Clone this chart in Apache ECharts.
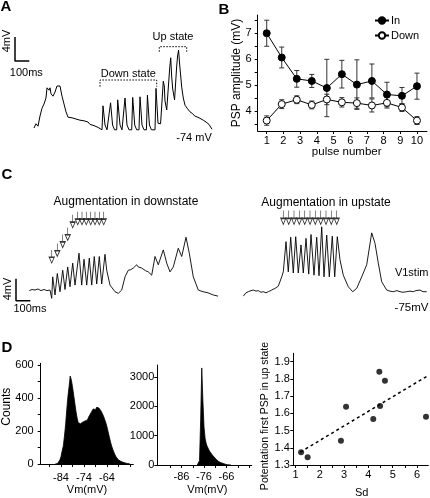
<!DOCTYPE html>
<html><head><meta charset="utf-8">
<script src="https://cdn.jsdelivr.net/npm/echarts@6/dist/echarts.min.js"></script>
<style>html,body{margin:0;padding:0;background:#fff}#c{width:430px;height:498px}</style>
</head><body><div id="c"></div>
<script>
// ---------- DATA ----------
// Panel A: membrane potential trace [time ms, Vm mV]
const traceA = [[0,-74.0],[14,-73.3],[28,-73.7],[42,-72.0],[56,-70.7],[70,-70.0],[84,-69.0],[91,-67.3],[98,-67.0],[105,-67.7],[112,-67.3],[119,-68.3],[133,-68.7],[147,-68.0],[161,-67.0],[168,-66.8],[175,-67.3],[182,-67.0],[196,-68.7],[210,-70.0],[224,-71.3],[238,-72.2],[252,-72.0],[266,-72.3],[280,-72.2],[294,-72.5],[308,-72.4],[322,-72.7],[336,-72.6],[350,-72.8],[364,-72.9],[378,-73.0],[392,-73.4],[406,-73.3],[420,-73.6],[434,-73.8],[448,-73.9],[462,-74.0],
[476,-74.3],[483,-70.3],[497,-73.5],[511,-74.3],
[525,-74.3],[536,-69.8],[550,-73.5],[564,-74.3],
[579,-74.3],[586,-69.3],[602,-73.5],[616,-74.3],
[630,-74.3],[637,-69.0],[651,-73.5],[665,-74.3],
[684,-74.3],[691,-68.9],[705,-73.5],[719,-74.3],
[735,-74.3],[742,-68.8],[756,-73.5],[770,-74.3],
[787,-74.3],[794,-68.5],[808,-73.5],[822,-74.3],
[847,-74.3],[854,-67.4],[868,-73.2],[886,-73.3],
[905,-66.2],[912,-67.0],[917,-69.5],[929,-71.0],[950,-64.0],[957,-62.3],[964,-65.5],[971,-67.5],[984,-69.3],[998,-64.0],[1005,-62.0],[1012,-61.0],[1020,-63.5],[1034,-67.2],[1045,-69.0],[1057,-70.2],[1075,-70.8],[1092,-71.3],[1110,-71.6],[1125,-72.0],[1139,-72.2],[1155,-72.3],[1169,-72.5],[1185,-72.7],[1204,-73.0],[1225,-73.4],[1246,-74.2]];
const scaleBarA = [[-133,-58.83],[-133,-62.83],[-33,-62.83]];
const downBracket = [[462,-67.1],[462,-66],[859,-66],[859,-67.1]];
const upBracket = [[877,-61.28],[877,-60.45],[1069,-60.45],[1069,-61.28]];

// Panel B: PSP amplitude vs pulse number
const pulseX = [1, 1.9, 2.8, 3.7, 4.6, 5.5, 6.4, 7.3, 8.2, 9.1, 10];
const inVals = [7.0, 6.07, 5.25, 5.17, 4.9, 5.43, 5.03, 5.17, 4.65, 4.6, 4.97];
const inErr = [0.5, 0.4, 0.32, 0.25, 1.1, 0.53, 0.95, 0.65, 0.47, 0.32, 0.5];
const downVals = [3.65, 4.28, 4.45, 4.25, 4.46, 4.35, 4.32, 4.23, 4.33, 4.15, 3.65];
const downErr = [0.18, 0.17, 0.15, 0.15, 0.2, 0.18, 0.2, 0.25, 0.2, 0.15, 0.15];
const pulseTicks = [1,2,3,4,5,6,7,8,9,10];
const pspTicks = [4,5,6,7];

// Panel C: traces [time ms, Vm mV]
const traceCdown = [[205,-74.8],[224,-74.6],[245,-74.7],[266,-74.5],[287,-74.8],[308,-74.6],[329,-74.8],[350,-74.7],[362,-76.2],[369,-72.3],[385,-75.6],[401,-71.7],[420,-75.0],[439,-71.1],[455,-74.6],[474,-70.5],[490,-74.1],[509,-69.8],[525,-73.8],[553,-68.0],[572,-73.8],[588,-69.1],[607,-73.8],[625,-68.9],[642,-73.8],[660,-68.6],[677,-73.6],[695,-68.6],[712,-73.6],[735,-68.2],[747,-71.1],[770,-73.8],[805,-75.0],[828,-75.3],[852,-74.7],[875,-72.3],[898,-71.1],[915,-71.0],[933,-70.7],[945,-70.6],[957,-70.1],[968,-70.5],[980,-70.6],[992,-70.7],[1003,-70.9],[1020,-71.2],[1038,-71.4],[1062,-72.0],[1085,-68.6],[1108,-70.1],[1143,-67.4],[1167,-69.8],[1190,-71.4],[1213,-70.5],[1248,-67.1],[1272,-68.6],[1302,-65.1],[1325,-68.0],[1353,-72.3],[1388,-74.7],[1421,-75.0],[1456,-75.2],[1493,-75.6],[1526,-75.8]];
const traceCup = [[1703,-75.8],[1722,-75.2],[1738,-75.0],[1757,-74.8],[1773,-74.7],[1792,-74.9],[1808,-74.8],[1827,-75.1],[1843,-75.0],[1862,-75.2],[1878,-75.0],[1902,-74.7],[1925,-74.4],[1948,-74.0],[1972,-72.3],[1983,-71.4],[2002,-65.9],[2018,-71.4],[2035,-65.1],[2053,-71.6],[2070,-65.0],[2088,-71.6],[2107,-66.5],[2123,-71.6],[2142,-65.3],[2161,-71.8],[2177,-64.6],[2198,-72.0],[2217,-65.1],[2233,-72.1],[2252,-63.2],[2268,-72.3],[2287,-64.7],[2305,-72.3],[2326,-64.9],[2343,-72.3],[2361,-65.0],[2380,-69.2],[2403,-72.0],[2438,-74.1],[2469,-75.0],[2497,-74.4],[2532,-72.3],[2567,-70.1],[2602,-64.3],[2625,-66.2],[2648,-69.8],[2672,-73.2],[2707,-74.7],[2730,-74.9],[2753,-75.0],[2779,-74.8],[2800,-75.0],[2821,-75.1],[2847,-75.0],[2870,-74.9],[2893,-75.0],[2912,-74.8],[2940,-74.7],[2961,-75.0],[2987,-75.0]];
const arrowsDown = [[362,-68.6],[401,-67.4],[439,-65.8],[474,-64.5],[509,-62.2],[544,-61.65],[574,-61.65],[604,-61.65],[635,-61.65],[665,-61.65],[695,-61.65],[726,-61.65]];
const arrowsUp = [[1983,-61.5],[2021,-61.5],[2058,-61.5],[2095,-61.5],[2133,-61.5],[2170,-61.5],[2207,-61.5],[2245,-61.5],[2282,-61.5],[2319,-61.5],[2357,-61.5]];
const scaleBarC = [[112,-72.64],[112,-76.64],[212,-76.64]];

// Panel D: Vm histograms [Vm mV, counts]
const hist1 = [[-86.5,0],[-86,0],[-85.5,3],[-85,10],[-84.5,25],[-84,45],[-83.5,80],[-83,110],[-82.5,170],[-82,240],[-81.5,330],[-81,410],[-80.5,470],[-80,535],[-79.5,510],[-79,470],[-78.5,420],[-78,370],[-77.5,320],[-77,280],[-76.5,250],[-76,238],[-75.5,245],[-75,240],[-74.5,255],[-74,250],[-73.5,262],[-73,270],[-72.5,268],[-72,285],[-71.5,290],[-71,310],[-70.5,320],[-70,335],[-69.5,340],[-69,330],[-68.5,345],[-68,335],[-67.5,340],[-67,330],[-66.5,320],[-66,305],[-65.5,290],[-65,270],[-64.5,250],[-64,225],[-63.5,195],[-63,165],[-62.5,135],[-62,110],[-61.5,90],[-61,72],[-60.5,55],[-60,42],[-59.5,32],[-59,25],[-58.5,20],[-58,16],[-57.5,12],[-57,10],[-56.5,8],[-56,6],[-55.5,4],[-55,3],[-54.5,2],[-54,0]];
const hist2 = [[-79,0],[-78.5,0],[-78,150],[-77.5,1500],[-77,3300],[-76.5,2200],[-76,1300],[-75.5,900],[-75,720],[-74.5,620],[-74,540],[-73.5,470],[-73,420],[-72.5,360],[-72,310],[-71.5,270],[-71,230],[-70.5,190],[-70,150],[-69.5,120],[-69,100],[-68.5,80],[-68,70],[-67.5,55],[-67,40],[-66.5,25],[-66,15],[-65.5,8],[-65,4],[-64,0]];
const hist1Labels = [-84,-74,-64];
const hist1Ticks = [-89,-84,-79,-74,-69,-64,-59,-54];
const hist1YLabels = [0,200,400,600];
const hist1YTicks = [0,100,200,300,400,500,600];
const hist2Labels = [-86,-76,-66];
const hist2Ticks = [-91,-86,-81,-76,-71,-66,-61,-56];
const hist2YLabels = [0,1000,2000,3000];

// Panel D right: potentiation vs Sd
const sdVals = [1.23, 1.5, 2.87, 3.08, 4.2, 4.45, 4.48, 4.68, 6.37];
const potVals = [1.374, 1.345, 1.441, 1.639, 1.567, 1.842, 1.643, 1.79, 1.581];
const fitLine = [[1.2, 1.375], [6.4, 1.815]];
const sdLabels = [1,2,3,4,5,6];
const sdTicks = [1,1.5,2,2.5,3,3.5,4,4.5,5,5.5,6];
const potLabels = [1.3,1.4,1.5,1.6,1.7,1.8,1.9];

// ---------- CHART ----------
const FONT = '"Liberation Sans", Arial, Helvetica, sans-serif';
const chart = echarts.init(document.getElementById('c'), null, {renderer:'canvas'});

function txt(s, x, y, size, opt) {
  opt = opt || {};
  return {type:'text', x:x, y:y, rotation: opt.rot || 0, silent:true, z:100,
    style:{text:s, x:0, y:0, align:'center', verticalAlign:'middle',
      font:(opt.bold?'bold ':'') + size + 'px ' + FONT, fill:'#000'}};
}
const R = Math.PI/2;

function errRender(params, api) {
  const x = api.value(0), lo = api.value(1), hi = api.value(2);
  const p1 = api.coord([x, hi]), p2 = api.coord([x, lo]);
  const w = 2.5, st = {stroke:'#333', lineWidth:1};
  return {type:'group', children:[
    {type:'line', shape:{x1:p1[0],y1:p1[1],x2:p2[0],y2:p2[1]}, style:st},
    {type:'line', shape:{x1:p1[0]-w,y1:p1[1],x2:p1[0]+w,y2:p1[1]}, style:st},
    {type:'line', shape:{x1:p2[0]-w,y1:p2[1],x2:p2[0]+w,y2:p2[1]}, style:st}
  ]};
}

const axisLine = {show:true, lineStyle:{color:'#000', width:1}};
const plain = v => String(v);
const lbl = (m, vals) => ({color:'#000', fontSize:11, fontFamily:FONT, margin:m, customValues: vals, formatter: plain});
const tick = (vals, len) => ({show:true, length: len || 3, lineStyle:{color:'#000'}, customValues: vals});
const hidden = {show:false};

const ARROW = 'path://M5,0L5,9M1,9L9,9L5,16Z';

const option = {
  animation:false,
  textStyle:{fontFamily:FONT},
  grid:[
    {left:0, top:20, width:215, height:120, outerBoundsMode:'none', containLabel:false},        // A
    {left:257.7, top:15, width:169.3, height:116, outerBoundsMode:'none', containLabel:false},  // B
    {left:0, top:203.7, width:430, height:110, outerBoundsMode:'none', containLabel:false},     // C
    {left:40.7, top:363.3, width:92.6, height:100.7, outerBoundsMode:'none', containLabel:false}, // D hist1
    {left:157.3, top:365, width:94.4, height:100, outerBoundsMode:'none', containLabel:false},    // D hist2
    {left:293.3, top:353.3, width:135, height:111.7, outerBoundsMode:'none', containLabel:false}  // D scatter
  ],
  xAxis:[
    {gridIndex:0, type:'value', min:-238, max:1267, show:false},
    {gridIndex:1, type:'value', min:0.46, max:10.6, axisLine:axisLine, splitLine:hidden,
      axisLabel:lbl(4, pulseTicks), axisTick:tick(pulseTicks)},
    {gridIndex:2, type:'value', min:0, max:3010, show:false},
    {gridIndex:3, type:'value', min:-92.83, max:-52.57, axisLine:axisLine, splitLine:hidden,
      axisLabel:lbl(8.5, hist1Labels), axisTick:tick(hist1Ticks)},
    {gridIndex:4, type:'value', min:-96.76, max:-54.8, axisLine:axisLine, splitLine:hidden,
      axisLabel:lbl(6, hist2Labels), axisTick:tick(hist2Ticks)},
    {gridIndex:5, type:'value', min:0.91, max:6.465, axisLine:axisLine, splitLine:hidden,
      axisLabel:lbl(4.5, sdLabels), axisTick:tick(sdTicks)}
  ],
  yAxis:[
    {gridIndex:0, type:'value', min:-76, max:-56, show:false},
    {gridIndex:1, type:'value', min:3.25, max:7.7, axisLine:axisLine, splitLine:hidden,
      axisLabel:lbl(6, pspTicks), axisTick:tick([3.5,4,4.5,5,5.5,6,6.5,7,7.5])},
    {gridIndex:2, type:'value', min:-79, max:-59, show:false},
    {gridIndex:3, type:'value', min:0, max:612, axisLine:axisLine, splitLine:hidden,
      axisLabel:lbl(7, hist1YLabels), axisTick:tick(hist1YTicks)},
    {gridIndex:4, type:'value', min:0, max:3400, axisLine:axisLine, splitLine:hidden,
      axisLabel:lbl(3, hist2YLabels), axisTick:tick(hist2YLabels)},
    {gridIndex:5, type:'value', min:1.3, max:1.949, axisLine:axisLine, splitLine:hidden,
      axisLabel:Object.assign(lbl(3.5, potLabels), {formatter:v => v.toFixed(1)}), axisTick:tick(potLabels)}
  ],
  legend:{
    data:['In','Down'], orient:'vertical', left:374, top:15, itemWidth:14, itemHeight:8, itemGap:4,
    padding:0, textStyle:{fontSize:11, color:'#000', fontFamily:FONT, lineHeight:8, padding:[0,0,0,-3]}
  },
  series:[
    // A
    {type:'line', xAxisIndex:0, yAxisIndex:0, data:traceA, symbol:'none', lineStyle:{color:'#000', width:1}},
    {type:'line', xAxisIndex:0, yAxisIndex:0, data:scaleBarA, symbol:'none', lineStyle:{color:'#000', width:1.5}},
    {type:'line', xAxisIndex:0, yAxisIndex:0, data:downBracket, symbol:'none', lineStyle:{color:'#000', width:1, type:[1.5,1.5]}},
    {type:'line', xAxisIndex:0, yAxisIndex:0, data:upBracket, symbol:'none', lineStyle:{color:'#000', width:1, type:[1.5,1.5]}},
    // B error bars
    {type:'custom', xAxisIndex:1, yAxisIndex:1, renderItem:errRender,
      data:pulseX.map((x,i)=>[x, downVals[i]-downErr[i], downVals[i]+downErr[i]]), z:1},
    {type:'custom', xAxisIndex:1, yAxisIndex:1, renderItem:errRender,
      data:pulseX.map((x,i)=>[x, inVals[i]-inErr[i], inVals[i]+inErr[i]]), z:1},
    {name:'Down', type:'line', xAxisIndex:1, yAxisIndex:1, data:pulseX.map((x,i)=>[x, downVals[i]]),
      symbol:'circle', symbolSize:7, lineStyle:{color:'#000', width:1},
      itemStyle:{color:'#fff', borderColor:'#000', borderWidth:1}, z:3},
    {name:'In', type:'line', xAxisIndex:1, yAxisIndex:1, data:pulseX.map((x,i)=>[x, inVals[i]]),
      symbol:'circle', symbolSize:7, lineStyle:{color:'#000', width:1},
      itemStyle:{color:'#000', borderColor:'#000', borderWidth:1}, z:3},
    // C
    {type:'line', xAxisIndex:2, yAxisIndex:2, data:traceCdown, symbol:'none', lineStyle:{color:'#000', width:0.9}},
    {type:'line', xAxisIndex:2, yAxisIndex:2, data:traceCup, symbol:'none', lineStyle:{color:'#000', width:0.9}},
    {type:'line', xAxisIndex:2, yAxisIndex:2, data:scaleBarC, symbol:'none', lineStyle:{color:'#000', width:1.5}},
    {type:'scatter', xAxisIndex:2, yAxisIndex:2, data:arrowsDown, symbol:ARROW, symbolSize:[5,13],
      itemStyle:{color:'#fff', borderColor:'#000', borderWidth:1}},
    {type:'scatter', xAxisIndex:2, yAxisIndex:2, data:arrowsUp, symbol:ARROW, symbolSize:[5,14],
      itemStyle:{color:'#fff', borderColor:'#000', borderWidth:1}},
    // D hist
    {type:'line', xAxisIndex:3, yAxisIndex:3, data:hist1, symbol:'none',
      lineStyle:{color:'#000', width:0.8}, areaStyle:{color:'#000', opacity:1}},
    {type:'line', xAxisIndex:4, yAxisIndex:4, data:hist2, symbol:'none',
      lineStyle:{color:'#000', width:0.8}, areaStyle:{color:'#000', opacity:1}},
    // D scatter
    {type:'line', xAxisIndex:5, yAxisIndex:5, data:fitLine, symbol:'none',
      lineStyle:{color:'#000', width:1.5, type:[3,3]}},
    {type:'scatter', xAxisIndex:5, yAxisIndex:5, data:sdVals.map((s,i)=>[s, potVals[i]]),
      symbol:'circle', symbolSize:6, itemStyle:{color:'#000'}}
  ],
  graphic:[
    txt('A', 6, 7, 15, {bold:true}),
    txt('B', 224, 9.5, 15, {bold:true}),
    txt('C', 7, 174.5, 15, {bold:true}),
    txt('D', 7, 347.5, 15, {bold:true}),
    txt('4mV', 7, 41, 11, {rot:R}),
    txt('100ms', 26.3, 72.5, 11),
    txt('Down state', 128.3, 74, 11),
    txt('Up state', 173, 37, 11),
    txt('-74 mV', 194, 138, 11),
    txt('PSP amplitude (mV)', 236.5, 73, 12, {rot:R}),
    txt('pulse number', 346.7, 151.7, 11.5),
    txt('Augmentation in downstate', 126, 201.7, 12),
    txt('Augmentation in upstate', 326, 202.7, 12),
    txt('4mV', 8, 289, 11, {rot:R}),
    txt('100ms', 30, 308.5, 11),
    txt('V1stim', 411.7, 273.3, 11),
    txt('-75mV', 411.5, 307.7, 11.5),
    txt('Counts', 6.5, 406.7, 12, {rot:R}),
    txt('Vm(mV)', 87, 490, 11),
    txt('Vm(mV)', 207.3, 490, 11),
    txt('Potentation first PSP in up state', 265, 416, 10.5, {rot:R}),
    txt('Sd', 361.7, 492.7, 11)
  ]
};
chart.setOption(option);
</script>
</body></html>
